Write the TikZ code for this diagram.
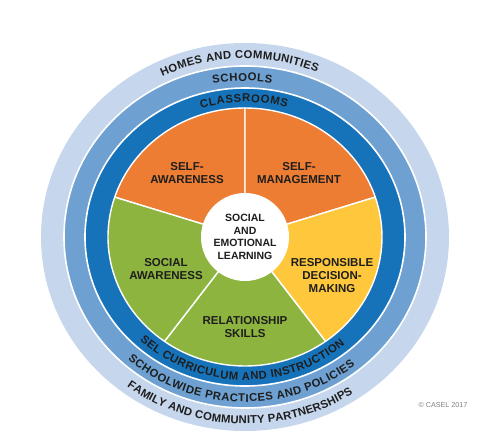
\documentclass[tikz,border=0pt]{standalone}
\usepackage{fontspec}
\setmainfont{Liberation Sans}
\usetikzlibrary{decorations.text}
\definecolor{ringlight}{RGB}{198,215,237}
\definecolor{ringmid}{RGB}{110,161,210}
\definecolor{ringdark}{RGB}{22,114,185}
\definecolor{selforange}{RGB}{237,125,50}
\definecolor{decyellow}{RGB}{255,200,60}
\definecolor{relgreen}{RGB}{141,180,63}
\definecolor{labeltext}{RGB}{30,30,30}
\newcommand\ringfont{\bfseries\fontsize{11.3}{13}\selectfont}

\begin{document}
\begin{tikzpicture}[x=1pt, y=1pt,
  ring/.style={draw=white, line width=1.6pt},
  sector/.style={draw=white, line width=1.4pt, line join=round},
  lbl/.style={font=\bfseries\fontsize{11.5}{13}\selectfont, text=labeltext, align=center},
  arctext/.style={decorate, decoration={text along path, text align={fit to path},
    text color=labeltext, text={|\ringfont|#1}}}
]
  \useasboundingbox (-245,-199) rectangle (255,237);

  % Rings
  \fill[ringlight] (0,0) ellipse[x radius=204pt, y radius=194pt];
  \filldraw[ring, fill=ringmid] (0,0) ellipse[x radius=181pt, y radius=171pt];
  \filldraw[ring, fill=ringdark] (0,0) ellipse[x radius=160pt, y radius=149pt];

  % Wheel of five competencies
  \foreach \from/\to/\col in {90/162/selforange, 18/90/selforange, -54/18/decyellow,
      -126/-54/relgreen, 162/234/relgreen}
    \filldraw[sector, fill=\col] (0,0) -- ({137*cos(\from)},{129*sin(\from)})
      arc[start angle=\from, end angle=\to, x radius=137pt, y radius=129pt] -- cycle;

  \node[circle, fill=white, minimum size=88pt, inner sep=0pt, lbl,
    font=\bfseries\fontsize{10.5}{12.7}\selectfont] (sel) at (0,0) {SOCIAL\\AND\\EMOTIONAL\\LEARNING};

  \node[lbl] (selfaware) at (-58,64) {SELF-\\AWARENESS};
  \node[lbl] (selfmanage) at (54,64) {SELF-\\MANAGEMENT};
  \node[lbl] (decision) at (87,-39) {RESPONSIBLE\\DECISION-\\MAKING};
  \node[lbl] (socialaware) at (-79,-32) {SOCIAL\\AWARENESS};
  \node[lbl] (relation) at (0,-90) {RELATIONSHIP\\SKILLS};

  % Ring labels, top
  \path[arctext={HOMES AND COMMUNITIES}] ({188.5*cos(116)},{178.5*sin(116)})
    arc[start angle=116, end angle=67.5, x radius=188.5pt, y radius=178.5pt];
  \path[arctext={SCHOOLS}] ({166.5*cos(101.1)},{156*sin(101.1)})
    arc[start angle=101.1, end angle=80.7, x radius=166.5pt, y radius=156pt];
  \path[arctext={CLASSROOMS}] ({144.5*cos(107.7)},{135*sin(107.7)})
    arc[start angle=107.7, end angle=73.1, x radius=144.5pt, y radius=135pt];

  % Ring labels, bottom
  \path[arctext={SEL CURRICULUM AND INSTRUCTION}] ({152*cos(226.3)},{143*sin(226.3)})
    arc[start angle=226.3, end angle=311.1, x radius=152pt, y radius=143pt];
  \path[arctext={SCHOOLWIDE PRACTICES AND POLICIES}] ({175*cos(228)},{165*sin(228)})
    arc[start angle=228, end angle=309, x radius=175pt, y radius=165pt];
  \path[arctext={FAMILY AND COMMUNITY PARTNERSHIPS}] ({197*cos(233.2)},{187*sin(233.2)})
    arc[start angle=233.2, end angle=303.2, x radius=197pt, y radius=187pt];

  \node[font=\fontsize{7.2}{9}\selectfont, text=gray] (casel) at (198,-168) {\textcopyright{} CASEL 2017};
\end{tikzpicture}
\end{document}
